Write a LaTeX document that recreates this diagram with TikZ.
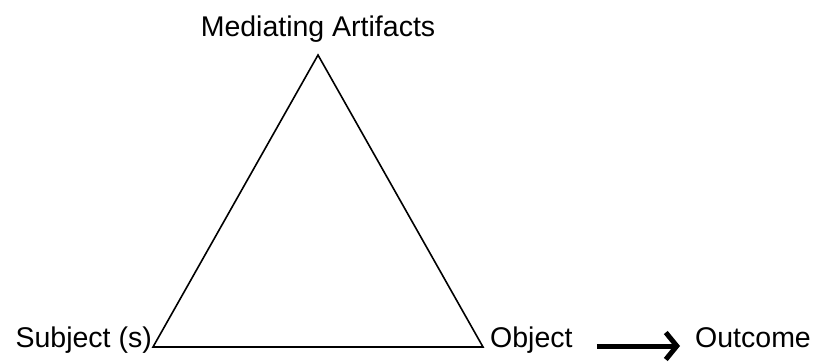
\documentclass[tikz,border=0pt]{standalone}
\usepackage{fontspec}
\setmainfont{Liberation Sans}
\usetikzlibrary{arrows.meta}

\begin{document}
\begin{tikzpicture}[x=1pt,y=-1pt,
        label text/.style={inner sep=0pt,font=\fontsize{28.5}{34}\selectfont}]
        \useasboundingbox (0,0) rectangle (818,361);

        % 1. Corners of the triangle
        \coordinate (apex) at (318,55);
        \coordinate (subjc) at (153,347);
        \coordinate (objc) at (483,347);
        \draw[line width=1.6pt,line join=miter] (apex) -- (subjc) -- (objc) -- cycle;

        % 2. Labels at the corners
        \node (artifacts) at (318,37) [label text,anchor=base] {Mediating Artifacts};
        \node (subject) at (152,347) [label text,anchor=base east] {Subject (s)};
        \node (object) at (490,347) [label text,anchor=base west] {Object};
        \node (outcome) at (695,347) [label text,anchor=base west] {Outcome};

        % 3. Object leads to outcome
        \draw[line width=5pt,-{Straight Barb[length=11pt,width=27pt]},shorten <=24pt,shorten >=15pt]
            ([yshift=1pt]object.base east) -- ([yshift=1pt]outcome.base west);
\end{tikzpicture}
\end{document}
